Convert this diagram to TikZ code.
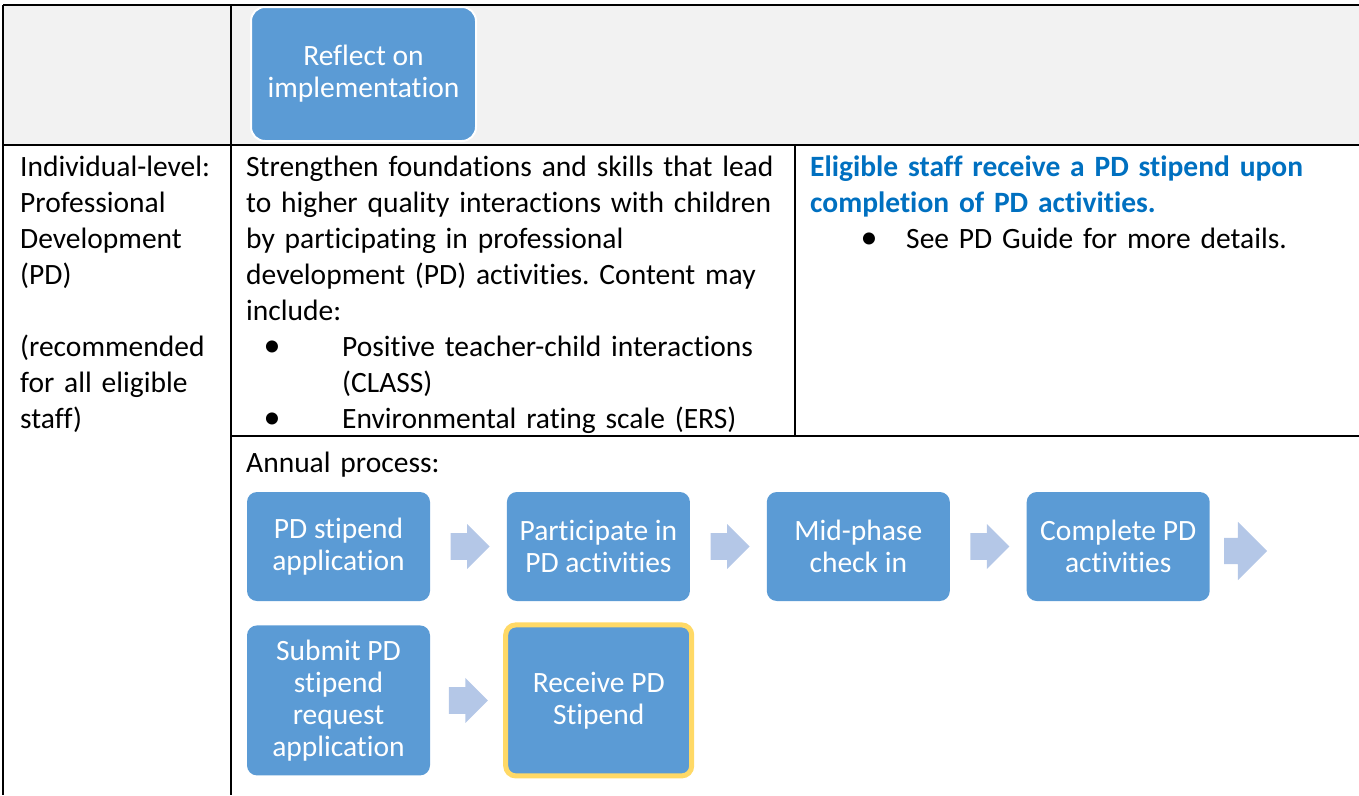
\documentclass[tikz,border=0pt]{standalone}
\usepackage{fontspec}
\setmainfont{Carlito}[Ligatures=NoCommon]
\frenchspacing
\usetikzlibrary{positioning, shapes.arrows}
\definecolor{boxblue}{HTML}{5B9BD5}
\definecolor{arrowblue}{HTML}{B4C7E7}
\definecolor{headblue}{HTML}{0070C0}
\definecolor{rowgray}{HTML}{F2F2F2}
\definecolor{stipendgold}{HTML}{FFD966}
% bullet at #1 from the cell edge, item text at 96pt
\newcommand{\itm}[1]{\hspace*{#1}\makebox[0pt]{\fontsize{34}{36}\selectfont\textbullet}\hspace*{\dimexpr96pt-#1\relax}}
\tikzset{
    stage/.style={
        fill=boxblue,
        rounded corners=10pt,
        text=white,
        minimum width=183pt,
        minimum height=109pt,
        align=center,
        inner sep=4pt,
        font=\fontsize{29.5}{32}\selectfont,
    },
    flowarrow/.style={
        single arrow,
        fill=arrowblue,
        minimum height=39pt,
        minimum width=45pt,
        inner xsep=0pt,
        inner ysep=13pt,
        single arrow head extend=9pt,
        xshift=-5pt,
    },
    cell/.style={
        anchor=base west,
        inner sep=0pt,
        align=left,
        text width=540pt,
        font=\fontsize{29.5}{36}\selectfont,
    },
    tablerule/.style={line width=1.2pt},
    tableedge/.style={line width=1.8pt},
}

\begin{document}
\begin{tikzpicture}[x=1pt, y=-1pt, node distance=76.5pt]
        \useasboundingbox (0,0) rectangle (1359,795);
        % table frame
        \fill[rowgray] (3,5) rectangle (1359,145);
        \draw[tableedge] (3,5) -- (1359,5);
        \draw[tableedge] (3,5) -- (3,795);
        \draw[tableedge] (3,145) -- (1359,145);
        \draw[tablerule] (231,5) -- (231,795);
        \draw[tablerule] (795,145) -- (795,436);
        \draw[tablerule] (231,436) -- (1359,436);

        \node[stage, draw=white, line width=2pt, rounded corners=14pt,
              minimum width=225pt, minimum height=134pt] (reflect) at (363.5,74)
              {Reflect on\\implementation};

        % cell texts
        \node[cell, text width=205pt] (lvl) at (20,176) {Individual-level:\\
        Professional\\
        Development\\
        (PD)\\[36pt]
        (recommended\\
        for all eligible\\
        staff)};
        \node[cell] (goal) at (246,176) {Strengthen foundations and skills that lead\\
        to higher quality interactions with children\\
        by participating in professional\\
        development (PD) activities. Content may\\
        include:\\
        \itm{26pt}Positive teacher-child interactions\\
        \hspace*{96pt}(CLASS)\\
        \itm{26pt}Environmental rating scale (ERS)};
        \node[cell] (pay) at (810,176) {\textbf{\color{headblue}Eligible staff receive a PD stipend upon}\\
        \textbf{\color{headblue}completion of PD activities.}\\
        \itm{59pt}See PD Guide for more details.};
        \node[cell] (annual) at (246,472) {Annual process:};

        % annual process
        \node[stage] (b1) at (338.5,546.5) {PD stipend\\application};
        \node[stage, right=of b1] (b2) {Participate in\\PD activities};
        \node[stage, right=of b2] (b3) {Mid-phase\\check in};
        \node[stage, right=of b3] (b4) {Complete PD\\activities};
        \node[stage, below=24pt of b1, minimum height=150pt] (b5) {Submit PD\\stipend\\request\\application};
        \node[stage, draw=stipendgold, line width=5pt, minimum width=186pt,
              minimum height=151pt, right=73pt of b5] (b6) {Receive PD\\Stipend};

        \path (b1) -- node[flowarrow] (a1) {} (b2);
        \path (b2) -- node[flowarrow] (a2) {} (b3);
        \path (b3) -- node[flowarrow] (a3) {} (b4);
        \node[flowarrow, minimum height=43pt, minimum width=58pt,
              single arrow head extend=16pt, right=18pt of b4, yshift=-4.5pt, xshift=1pt] (a4) {};
        \path (b5) -- node[flowarrow] (a5) {} (b6);
\end{tikzpicture}
\end{document}
